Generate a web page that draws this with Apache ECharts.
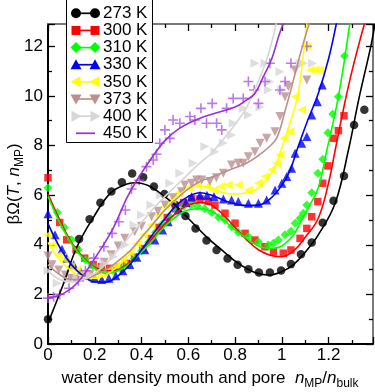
<!DOCTYPE html>
<html>
<head>
<meta charset="utf-8">
<script src="https://cdn.jsdelivr.net/npm/echarts@6/dist/echarts.min.js"></script>
<style>
html, body { margin: 0; padding: 0; background: #fff; }
#chart { width: 375px; height: 392px; }
</style>
</head>
<body>
<div id="chart"></div>
<script>
// temperatures, in legend order
var temps = ['273 K', '300 K', '310 K', '330 K', '350 K', '373 K', '400 K', '450 K'];

// simulation points [n_MP/n_bulk, betaOmega]
var pts273 = [[0,1.0],[0.133,4.23],[0.178,5.03],[0.224,5.69],[0.271,6.15],[0.316,6.52],[0.36,6.87],[0.407,6.72],[0.453,6.35],[0.498,6.05],[0.545,5.6],[0.588,5.16],[0.631,4.66],[0.678,4.17],[0.721,3.79],[0.768,3.45],[0.811,3.19],[0.857,3.01],[0.902,2.88],[0.949,2.88],[0.997,2.96],[1.039,3.22],[1.082,3.62],[1.128,4.09],[1.175,4.89],[1.221,5.77],[1.266,6.77],[1.309,8.83],[1.353,9.44]];
var pts300 = [[0,6.7],[0.05,4.9],[0.08,4.2],[0.12,3.8],[0.157,3.46],[0.193,3.2],[0.229,3.12],[0.264,3.05],[0.3,3.1],[0.335,3.25],[0.37,3.5],[0.405,3.85],[0.44,4.25],[0.475,4.7],[0.51,5.1],[0.545,5.45],[0.58,5.7],[0.615,5.85],[0.65,5.85],[0.685,5.75],[0.714,5.6],[0.757,5.27],[0.8,4.87],[0.843,4.46],[0.885,4.19],[0.928,3.92],[0.964,3.72],[1.006,3.66],[1.039,3.79],[1.078,4.26],[1.107,4.66],[1.128,5.13],[1.154,5.74],[1.175,6.48],[1.197,7.18],[1.221,8.29],[1.242,8.6],[1.266,9.2]];
var pts310 = [[0,6.3],[0.04,5.3],[0.07,4.7],[0.1,4.2],[0.13,3.8],[0.16,3.4],[0.19,3.15],[0.22,3.0],[0.25,2.9],[0.28,2.95],[0.31,3.05],[0.34,3.2],[0.37,3.45],[0.4,3.75],[0.43,4.1],[0.46,4.5],[0.49,4.85],[0.52,5.15],[0.55,5.4],[0.58,5.55],[0.61,5.6],[0.64,5.55],[0.67,5.45],[0.7,5.3],[0.73,5.1],[0.757,5.0],[0.785,4.73],[0.814,4.5],[0.857,4.33],[0.9,4.12],[0.942,3.99],[0.964,4.06],[0.985,4.19],[1.014,4.4],[1.039,4.55],[1.057,4.87],[1.078,5.07],[1.092,5.27],[1.107,5.6],[1.128,6.1],[1.154,6.88],[1.175,7.45],[1.197,8.52],[1.218,9.27],[1.242,9.97],[1.268,11.61]];
var pts330 = [[0,5.25],[0.03,4.4],[0.06,3.82],[0.08,3.46],[0.11,3.19],[0.14,2.92],[0.17,2.78],[0.2,2.65],[0.23,2.6],[0.26,2.65],[0.29,2.75],[0.32,2.95],[0.35,3.2],[0.38,3.5],[0.414,3.8],[0.457,4.19],[0.49,4.6],[0.514,4.93],[0.557,5.4],[0.59,5.7],[0.614,5.94],[0.65,6.0],[0.68,6.0],[0.71,5.95],[0.75,5.85],[0.785,5.81],[0.814,5.74],[0.857,5.67],[0.9,5.67],[0.935,5.81],[0.971,6.21],[1.0,6.48],[1.021,6.75],[1.042,7.08],[1.057,7.69],[1.085,8.09],[1.107,8.36],[1.128,9.23],[1.152,9.77],[1.173,10.44]];
var pts350 = [[0,4.4],[0.021,4.0],[0.046,3.59],[0.074,3.39],[0.096,3.12],[0.124,2.98],[0.146,2.85],[0.17,2.8],[0.2,2.75],[0.23,2.8],[0.26,2.95],[0.29,3.15],[0.32,3.4],[0.35,3.7],[0.38,4.05],[0.41,4.4],[0.44,4.8],[0.47,5.2],[0.5,5.55],[0.53,5.85],[0.56,6.1],[0.6,6.3],[0.64,6.4],[0.68,6.35],[0.71,6.2],[0.74,6.35],[0.771,6.41],[0.814,6.41],[0.857,6.21],[0.9,6.48],[0.928,6.75],[0.957,7.02],[0.978,7.29],[0.992,7.62],[1.01,8.29],[1.035,8.56],[1.057,9.97],[1.085,9.44],[1.107,11.99],[1.121,11.05],[1.142,11.05],[1.162,11.05]];
var pts373 = [[0,3.55],[0.017,3.19],[0.046,2.98],[0.074,2.78],[0.096,2.65],[0.12,2.6],[0.15,2.65],[0.18,2.8],[0.21,3.0],[0.24,3.3],[0.27,3.6],[0.3,3.95],[0.328,4.26],[0.371,4.53],[0.4,4.75],[0.443,5.13],[0.47,5.35],[0.5,5.6],[0.535,5.9],[0.571,6.14],[0.585,6.41],[0.614,6.48],[0.636,6.61],[0.657,6.61],[0.692,6.55],[0.72,6.7],[0.75,6.88],[0.785,7.22],[0.814,7.29],[0.835,7.29],[0.857,7.55],[0.885,7.75],[0.907,8.09],[0.935,8.29],[0.971,8.56],[0.992,9.17],[1.014,9.97],[1.028,10.37],[1.057,11.05],[1.107,10.64]];
var pts400 = [[0,2.95],[0.039,2.45],[0.081,2.58],[0.124,2.65],[0.181,2.78],[0.239,3.25],[0.281,3.52],[0.331,3.99],[0.367,4.8],[0.4,5.2],[0.44,5.6],[0.48,6.0],[0.521,6.48],[0.564,6.88],[0.621,7.29],[0.671,7.96],[0.714,7.75],[0.75,8.1],[0.785,8.43],[0.792,8.9],[0.835,9.5],[0.857,9.23],[0.885,11.32],[0.907,9.55],[0.928,11.32],[0.942,10.24],[0.949,10.58],[0.992,10.98],[1.0,10.24],[1.078,11.32],[1.092,11.32],[1.131,11.32]];
var pts450 = [[0,1.85],[0.024,1.9],[0.05,2.0],[0.09,2.25],[0.13,2.55],[0.16,2.95],[0.196,3.46],[0.239,3.92],[0.274,4.46],[0.303,4.93],[0.331,5.4],[0.357,6.25],[0.39,6.6],[0.421,7.15],[0.45,7.42],[0.464,7.65],[0.478,8.09],[0.5,8.63],[0.521,8.29],[0.535,9.03],[0.564,8.9],[0.607,9.17],[0.628,9.03],[0.654,9.5],[0.678,8.9],[0.702,9.7],[0.721,8.9],[0.743,8.63],[0.764,9.5],[0.792,9.9],[0.835,9.9],[0.857,10.58],[0.882,10.24],[0.9,9.7],[0.928,10.58],[0.949,11.32],[0.992,10.24],[1.014,10.58],[1.039,11.32],[1.107,12.0]];

// fitted curves
var fit273 = [[0,0.85],[0.067,2.45],[0.124,3.92],[0.196,5.13],[0.267,6.08],[0.338,6.45],[0.38,6.5],[0.43,6.38],[0.471,6.14],[0.543,5.6],[0.614,4.93],[0.68,4.3],[0.743,3.79],[0.814,3.25],[0.885,2.88],[0.942,2.78],[1.0,2.92],[1.05,3.2],[1.1,3.7],[1.156,4.4],[1.228,5.67],[1.285,7.82],[1.33,9.9],[1.382,12.06],[1.4,13]];
var fit300 = [[0,6.05],[0.05,5.0],[0.1,4.1],[0.15,3.5],[0.2,3.1],[0.25,2.95],[0.3,3.0],[0.35,3.3],[0.4,3.75],[0.45,4.3],[0.5,4.85],[0.55,5.3],[0.6,5.6],[0.65,5.7],[0.7,5.6],[0.75,5.2],[0.8,4.7],[0.85,4.2],[0.9,3.8],[0.95,3.58],[1.0,3.52],[1.05,3.75],[1.1,4.3],[1.156,5.07],[1.2,6.5],[1.228,7.8],[1.26,9.3],[1.3,11.0],[1.356,13.0]];
var fit310 = [[0,5.95],[0.05,4.9],[0.1,4.05],[0.15,3.45],[0.2,3.05],[0.25,2.85],[0.3,2.95],[0.35,3.25],[0.4,3.7],[0.45,4.2],[0.5,4.75],[0.55,5.15],[0.6,5.4],[0.65,5.45],[0.7,5.35],[0.75,5.0],[0.8,4.6],[0.85,4.25],[0.9,3.95],[0.95,3.85],[1.0,3.95],[1.05,4.4],[1.085,5.0],[1.12,5.6],[1.156,6.3],[1.19,7.7],[1.242,9.97],[1.292,13.0]];
var fit330 = [[0,4.85],[0.05,3.9],[0.1,3.2],[0.15,2.75],[0.2,2.5],[0.25,2.5],[0.3,2.75],[0.35,3.2],[0.4,3.8],[0.45,4.45],[0.5,5.05],[0.55,5.6],[0.6,5.95],[0.65,6.1],[0.7,6.0],[0.75,5.8],[0.8,5.65],[0.85,5.58],[0.9,5.6],[0.95,5.85],[1.0,6.4],[1.035,7.0],[1.07,7.96],[1.11,9.0],[1.156,10.1],[1.2,11.5],[1.235,13.0]];
var fit350 = [[0,4.1],[0.05,3.4],[0.1,2.95],[0.15,2.7],[0.2,2.65],[0.25,2.8],[0.3,3.15],[0.35,3.65],[0.4,4.25],[0.45,4.85],[0.5,5.45],[0.55,5.95],[0.6,6.25],[0.65,6.35],[0.7,6.3],[0.75,6.1],[0.8,6.05],[0.85,6.1],[0.885,6.2],[0.921,6.48],[0.964,7.02],[0.992,7.69],[1.021,8.5],[1.064,9.84],[1.085,11.1],[1.107,13.0]];
var fit373 = [[0,3.2],[0.05,2.8],[0.1,2.6],[0.15,2.6],[0.2,2.78],[0.25,3.0],[0.3,3.35],[0.35,3.75],[0.4,4.3],[0.45,4.85],[0.5,5.4],[0.55,5.85],[0.6,6.25],[0.65,6.55],[0.707,6.75],[0.778,7.02],[0.85,7.3],[0.893,7.55],[0.94,7.9],[0.978,8.3],[1.014,9.4],[1.057,10.9],[1.085,11.9],[1.12,13.0]];
var fit400 = [[0,2.95],[0.05,2.6],[0.1,2.5],[0.15,2.6],[0.2,2.85],[0.25,3.25],[0.3,3.8],[0.35,4.35],[0.4,4.9],[0.45,5.45],[0.5,5.95],[0.55,6.4],[0.6,6.85],[0.65,7.3],[0.7,7.7],[0.75,8.25],[0.8,8.85],[0.85,9.55],[0.9,10.6],[0.94,11.6],[0.978,13.0]];
var fit450 = [[0,1.85],[0.067,2.04],[0.124,2.45],[0.196,3.39],[0.267,4.46],[0.3,5.1],[0.338,5.9],[0.38,6.6],[0.436,7.4],[0.5,8.2],[0.564,8.7],[0.65,9.1],[0.714,9.3],[0.8,9.55],[0.85,9.84],[0.885,10.1],[0.921,10.78],[0.957,11.5],[0.992,12.56],[1.02,13.2]];

var xTicks = [0, 0.2, 0.4, 0.6, 0.8, 1, 1.2];
var yTicks = [0, 2, 4, 6, 8, 10, 12];

var points = [pts273, pts300, pts310, pts330, pts350, pts373, pts400, pts450];
var fits = [fit273, fit300, fit310, fit330, fit350, fit373, fit400, fit450];

var colors = ['#000000', '#ff0000', '#00ff00', '#0000ff', '#ffff00', '#bc8f8f', '#d6d6d6', '#9b2fd6'];
var plusPath = 'path://M0,4.2H10V5.8H0Z M4.2,0H5.8V10H4.2Z';
var symbols = ['circle', 'rect', 'diamond', 'triangle', 'triangle', 'triangle', 'triangle', plusPath];
var rotations = [0, 0, 0, 0, 90, 180, -90, 0];
var sizes = [8.5, 7.5, 9, 9, 9, 9, 9, 10];

var font = 'Liberation Sans, Arial, sans-serif';

var series = [];
for (var i = 0; i < temps.length; i++) {
    series.push({
        type: 'scatter',
        name: temps[i],
        data: points[i],
        symbol: symbols[i],
        symbolSize: sizes[i],
        symbolRotate: rotations[i],
        itemStyle: { color: i === 7 ? '#ad55e2' : colors[i] },
        z: 2,
        silent: true
    });
}
for (var i = 0; i < temps.length; i++) {
    series.push({
        type: 'line',
        name: temps[i] + ' fit',
        data: fits[i],
        smooth: 0.4,
        showSymbol: false,
        lineStyle: { color: colors[i], width: 1.6 },
        z: 3,
        silent: true
    });
}

// legend drawn by hand (line with a symbol at each end)
function legendSymbol(k, cx, cy) {
    var c = colors[k];
    if (k === 0) return { type: 'circle', shape: { cx: cx, cy: cy, r: 5 }, style: { fill: c } };
    if (k === 1) return { type: 'rect', shape: { x: cx - 4.5, y: cy - 4.5, width: 9, height: 9 }, style: { fill: c } };
    if (k === 2) return { type: 'polygon', shape: { points: [[cx, cy - 5.5], [cx + 5.5, cy], [cx, cy + 5.5], [cx - 5.5, cy]] }, style: { fill: c } };
    if (k === 3) return { type: 'polygon', shape: { points: [[cx, cy - 5.5], [cx + 5.5, cy + 4.5], [cx - 5.5, cy + 4.5]] }, style: { fill: c } };
    if (k === 4) return { type: 'polygon', shape: { points: [[cx - 5.5, cy], [cx + 4.5, cy - 5.5], [cx + 4.5, cy + 5.5]] }, style: { fill: c } };
    if (k === 5) return { type: 'polygon', shape: { points: [[cx, cy + 5.5], [cx + 5.5, cy - 4.5], [cx - 5.5, cy - 4.5]] }, style: { fill: c } };
    if (k === 6) return { type: 'polygon', shape: { points: [[cx + 5.5, cy], [cx - 4.5, cy - 5.5], [cx - 4.5, cy + 5.5]] }, style: { fill: c } };
    return { type: 'group', children: [
        { type: 'line', shape: { x1: cx - 5, y1: cy, x2: cx + 5, y2: cy }, style: { stroke: c, lineWidth: 1.5 } },
        { type: 'line', shape: { x1: cx, y1: cy - 5, x2: cx, y2: cy + 5 }, style: { stroke: c, lineWidth: 1.5 } }
    ] };
}

var graphics = [{
    type: 'rect',
    shape: { x: 66.5, y: -1, width: 86, height: 143.5 },
    style: { fill: '#fff', stroke: '#000', lineWidth: 1 },
    z: 100
}];
for (var k = 0; k < temps.length; k++) {
    var cy = 13.3 + k * 17.14;
    graphics.push({ type: 'line', shape: { x1: 76, y1: cy, x2: 95, y2: cy }, style: { stroke: colors[k], lineWidth: 1.7 }, z: 101 });
    var s1 = legendSymbol(k, 76, cy); s1.z = 102; graphics.push(s1);
    var s2 = legendSymbol(k, 95, cy); s2.z = 102; graphics.push(s2);
    graphics.push({
        type: 'text', x: 103, y: cy, z: 102,
        style: { text: temps[k], font: '17px ' + font, fill: '#000', verticalAlign: 'middle', align: 'left' }
    });
}

var rich = {
    a: { fontSize: 17, fontFamily: font, color: '#000' },
    i: { fontSize: 17, fontFamily: font, fontStyle: 'italic', color: '#000' },
    s: { fontSize: 12, fontFamily: font, color: '#000', padding: [12, 0, 0, 0] }
};
graphics.push({
    type: 'text', x: 210, y: 378, z: 50,
    style: { text: '{a|water density mouth and pore  }{i|n}{s|MP}{a|/}{i|n}{s|bulk}', rich: rich, align: 'center', verticalAlign: 'middle' }
});
graphics.push({
    type: 'text', x: 14, y: 184, rotation: Math.PI / 2, z: 50,
    style: { text: '{a|βΩ(}{i|T}{a|, }{i|n}{s|MP}{a|)}', rich: rich, align: 'center', verticalAlign: 'middle' }
});

function tickLabel(list) {
    return function (v) {
        for (var j = 0; j < list.length; j++) {
            if (Math.abs(list[j] - v) < 1e-6) return String(list[j]);
        }
        return '';
    };
}

function axisPair(kind, max, interval, labels) {
    var main = {
        type: 'value', min: 0, max: max, interval: interval,
        position: kind === 'x' ? 'bottom' : 'left',
        axisLine: { show: true, onZero: false, lineStyle: { color: '#000', width: 2 } },
        axisTick: { show: true, inside: true, length: 7, lineStyle: { color: '#000', width: 1.3 } },
        minorTick: { show: true, splitNumber: 2, length: 4, lineStyle: { color: '#000', width: 1.3 } },
        axisLabel: { show: true, fontSize: 17, fontFamily: font, color: '#000', margin: kind === 'x' ? 3 : 5, showMaxLabel: false, formatter: tickLabel(labels) },
        splitLine: { show: false }
    };
    var other = {
        type: 'value', min: 0, max: max, interval: interval,
        position: kind === 'x' ? 'top' : 'right',
        axisLine: { show: true, onZero: false, lineStyle: { color: '#7a7a7a', width: 2 } },
        axisTick: { show: true, inside: true, length: 7, lineStyle: { color: '#000', width: 1.3 } },
        minorTick: { show: true, splitNumber: 2, length: 4, lineStyle: { color: '#000', width: 1.3 } },
        axisLabel: { show: false },
        splitLine: { show: false }
    };
    return [main, other];
}

var chart = echarts.init(document.getElementById('chart'));
chart.setOption({
    animation: false,
    backgroundColor: '#fff',
    grid: { left: 48, right: 2, top: 24, bottom: 48, containLabel: false },
    xAxis: axisPair('x', 1.39, 0.2, xTicks),
    yAxis: axisPair('y', 12.9, 2, yTicks),
    series: series,
    graphic: graphics
});
</script>
</body>
</html>
